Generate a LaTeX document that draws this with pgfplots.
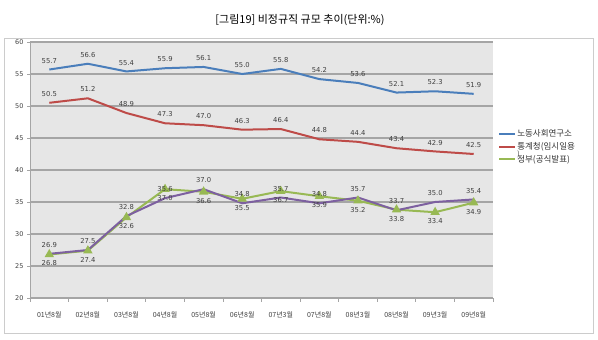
\documentclass[border=0pt]{standalone}
\usepackage{pgfplots}
\pgfplotsset{compat=1.18}
\usepackage{fontspec}
\setmainfont{DejaVu Sans}
\newfontfamily\kr{Noto Sans CJK KR}
\definecolor{cblue}{HTML}{4A7EBB}
\definecolor{cred}{HTML}{BE4B48}
\definecolor{cgreen}{HTML}{98B954}
\definecolor{cpurple}{HTML}{7D60A0}
\definecolor{gridc}{HTML}{A5A5A5}
\definecolor{bgc}{HTML}{E6E6E6}
\definecolor{lbl}{HTML}{404040}
\begin{document}
\begin{tikzpicture}[x=1pt,y=1pt]
\path[use as bounding box] (0,0) rectangle (598,340);
\draw[black!20, line width=0.8pt] (4,7) rectangle (593,302);
\node[font=\kr\fontsize{11}{12}\selectfont] at (300,320) {[그림19] 비정규직 규모 추이(단위:\%)};
\begin{axis}[
  at={(30pt,42pt)}, anchor=south west,
  width=463pt, height=256pt, scale only axis,
  xmin=0, xmax=12, ymin=20, ymax=60,
  axis background/.style={fill=bgc},
  axis x line*=bottom, axis y line*=left,
  axis line style={gridc, line width=0.8pt},
  xtick={0.5,1.5,...,11.5},
  xticklabels={01년8월,02년8월,03년8월,04년8월,05년8월,06년8월,07년3월,07년8월,08년3월,08년8월,09년3월,09년8월},
  minor xtick={0,1,...,12},
  major x tick style={draw=none},
  minor tick length=4pt,
  tick align=outside,
  ytick={20,25,...,60},
  major tick length=3pt,
  tick style={gridc, line width=0.8pt},
  ymajorgrids,
  major grid style={gridc, line width=1.2pt},
  x tick label style={font=\kr\fontsize{7}{8}\selectfont, text=lbl, yshift=-7pt},
  y tick label style={font=\fontsize{6.5}{7}\selectfont, text=lbl},
  /pgf/number format/assume math mode=true,
  nodes near coords={\pgfmathprintnumber[fixed,fixed zerofill,precision=1]{\pgfplotspointmeta}},
  nodes near coords style={font=\fontsize{6.8}{7}\selectfont, text=lbl},
  legend style={at={(1.011,0.591)}, anchor=west, draw=none, fill=none,
     font=\kr\fontsize{8.5}{9}\selectfont, row sep=2pt, text=black!80,
     inner sep=0pt, nodes={inner sep=1pt}},
  legend cell align=left,
  legend image code/.code={\draw[#1] (0pt,0pt) -- (16pt,0pt);},
  clip=false,
]
\addplot[cblue, line width=2pt, no markers, nodes near coords style={anchor=south, yshift=2pt}]
  coordinates {(0.5,55.7)(1.5,56.6)(2.5,55.4)(3.5,55.9)(4.5,56.1)(5.5,55.0)(6.5,55.8)(7.5,54.2)(8.5,53.6)(9.5,52.1)(10.5,52.3)(11.5,51.9)};
\addlegendentry{노동사회연구소}
\addplot[cred, line width=2pt, no markers, nodes near coords style={anchor=south, yshift=2pt}]
  coordinates {(0.5,50.5)(1.5,51.2)(2.5,48.9)(3.5,47.3)(4.5,47.0)(5.5,46.3)(6.5,46.4)(7.5,44.8)(8.5,44.4)(9.5,43.4)(10.5,42.9)(11.5,42.5)};
\addlegendentry{\smash{\rlap{\raisebox{-7pt}{\fontsize{7}{7}\selectfont)}}}통계청(임시일용}
\addplot[cgreen, line width=2pt, mark=triangle*, mark size=3.5pt, mark options={solid}, nodes near coords style={anchor=north, yshift=-2pt}]
  coordinates {(0.5,26.8)(1.5,27.4)(2.5,32.6)(3.5,37.0)(4.5,36.6)(5.5,35.5)(6.5,36.7)(7.5,35.9)(8.5,35.2)(9.5,33.8)(10.5,33.4)(11.5,34.9)};
\addlegendentry{정부(공식발표)}
\addplot[cpurple, line width=2pt, no markers, forget plot, nodes near coords style={anchor=south, yshift=2pt}]
  coordinates {(0.5,26.9)(1.5,27.5)(2.5,32.8)(3.5,35.6)(4.5,37.0)(5.5,34.8)(6.5,35.7)(7.5,34.8)(8.5,35.7)(9.5,33.7)(10.5,35.0)(11.5,35.4)};
\end{axis}
\end{tikzpicture}
\end{document}
